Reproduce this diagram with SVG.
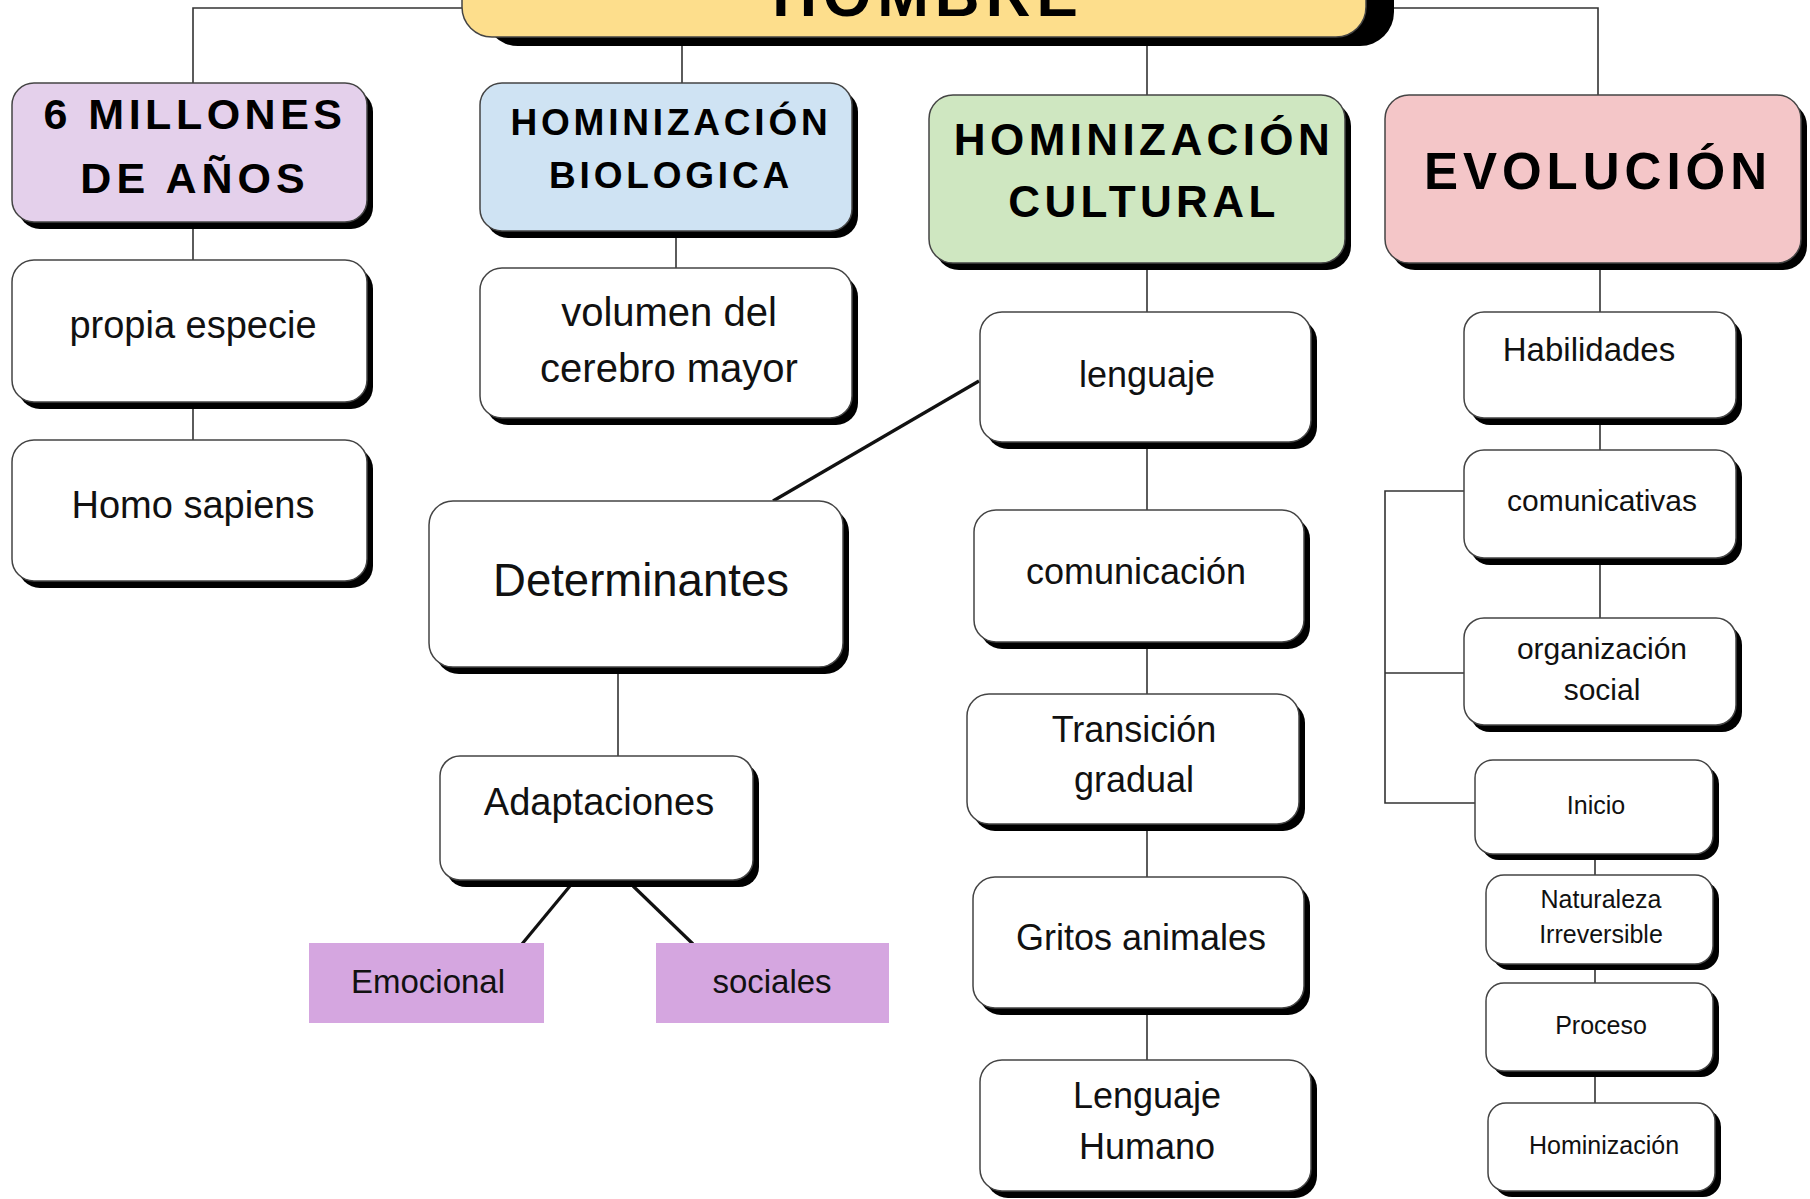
<svg xmlns="http://www.w3.org/2000/svg" width="1810" height="1199" viewBox="0 0 1810 1199">
<style>
.sh{fill:#000}
.bx{stroke:#444;stroke-width:1.5}
.w{fill:#fff}
.t{font-family:"Liberation Sans",Arial,sans-serif;fill:#111;text-anchor:middle}
.h{font-family:"Liberation Sans",Arial,sans-serif;font-weight:bold;fill:#000;text-anchor:middle}
.c{fill:none;stroke:#333;stroke-width:1.6}
.ct{fill:none;stroke:#111;stroke-width:3.2}
</style>
<rect width="1810" height="1199" fill="#fff"/>
<g id="connectors">
<polyline class="c" points="462,8 193,8 193,83"/>
<polyline class="c" points="1393,8 1598,8 1598,95"/>
<line class="c" x1="682" y1="46" x2="682" y2="83"/>
<line class="c" x1="1147" y1="46" x2="1147" y2="95"/>
<line class="c" x1="193" y1="222" x2="193" y2="260"/>
<line class="c" x1="193" y1="402" x2="193" y2="440"/>
<line class="c" x1="676" y1="231" x2="676" y2="268"/>
<line class="c" x1="1147" y1="263" x2="1147" y2="312"/>
<line class="c" x1="1147" y1="442" x2="1147" y2="510"/>
<line class="c" x1="1147" y1="642" x2="1147" y2="694"/>
<line class="c" x1="1147" y1="824" x2="1147" y2="877"/>
<line class="c" x1="1147" y1="1008" x2="1147" y2="1060"/>
<line class="c" x1="1600" y1="263" x2="1600" y2="312"/>
<line class="c" x1="1600" y1="418" x2="1600" y2="450"/>
<line class="c" x1="1600" y1="558" x2="1600" y2="618"/>
<polyline class="c" points="1464,491 1385,491 1385,803 1475,803"/>
<line class="c" x1="1385" y1="673" x2="1464" y2="673"/>
<line class="c" x1="1595" y1="854" x2="1595" y2="875"/>
<line class="c" x1="1595" y1="964" x2="1595" y2="983"/>
<line class="c" x1="1595" y1="1071" x2="1595" y2="1103"/>
<line class="ct" x1="979" y1="381" x2="773" y2="501"/>
<line class="c" x1="618" y1="667" x2="618" y2="756"/>
<line class="ct" x1="570" y1="886" x2="522" y2="944"/>
<line class="ct" x1="633" y1="886" x2="693" y2="944"/>
</g>
<g id="n-hombre">
<rect class="sh" x="484" y="-60" width="910" height="106" rx="34"/>
<rect class="bx" x="462" y="-60" width="904" height="97" rx="30" fill="#fdde8c"/>
<text class="h" x="928" y="16" font-size="62" letter-spacing="6">HOMBRE</text>
</g>
<g id="n-millones">
<rect class="sh" x="18" y="90" width="355" height="139" rx="22"/>
<rect class="bx" x="12" y="83" width="355" height="139" rx="22" fill="#e4d0eb"/>
<text class="h" x="195" y="129" font-size="43" letter-spacing="4.5">6 MILLONES</text>
<text class="h" x="195" y="193" font-size="43" letter-spacing="5">DE AÑOS</text>
</g>
<g id="n-biologica">
<rect class="sh" x="486" y="90" width="372" height="148" rx="22"/>
<rect class="bx" x="480" y="83" width="372" height="148" rx="22" fill="#cfe3f3"/>
<text class="h" x="671" y="135" font-size="37" letter-spacing="3.8">HOMINIZACIÓN</text>
<text class="h" x="671" y="188" font-size="37" letter-spacing="3.8">BIOLOGICA</text>
</g>
<g id="n-cultural">
<rect class="sh" x="935" y="102" width="416" height="168" rx="24"/>
<rect class="bx" x="929" y="95" width="416" height="168" rx="24" fill="#cfe7c1"/>
<text class="h" x="1144" y="155" font-size="44" letter-spacing="4.4">HOMINIZACIÓN</text>
<text class="h" x="1144" y="217" font-size="44" letter-spacing="4.4">CULTURAL</text>
</g>
<g id="n-evolucion">
<rect class="sh" x="1391" y="102" width="416" height="168" rx="24"/>
<rect class="bx" x="1385" y="95" width="416" height="168" rx="24" fill="#f4c6c8"/>
<text class="h" x="1598" y="189" font-size="51" letter-spacing="5">EVOLUCIÓN</text>
</g>
<g id="n-propia">
<rect class="sh" x="18" y="267" width="355" height="142" rx="22"/>
<rect class="bx w" x="12" y="260" width="355" height="142" rx="22"/>
<text class="t" x="193" y="338" font-size="38">propia especie</text>
</g>
<g id="n-homo">
<rect class="sh" x="18" y="447" width="355" height="141" rx="22"/>
<rect class="bx w" x="12" y="440" width="355" height="141" rx="22"/>
<text class="t" x="193" y="518" font-size="38">Homo sapiens</text>
</g>
<g id="n-volumen">
<rect class="sh" x="486" y="275" width="372" height="150" rx="22"/>
<rect class="bx w" x="480" y="268" width="372" height="150" rx="22"/>
<text class="t" x="669" y="326" font-size="40">volumen del</text>
<text class="t" x="669" y="382" font-size="40">cerebro mayor</text>
</g>
<g id="n-determinantes">
<rect class="sh" x="435" y="508" width="414" height="166" rx="24"/>
<rect class="bx w" x="429" y="501" width="414" height="166" rx="24"/>
<text class="t" x="641" y="596" font-size="45.5">Determinantes</text>
</g>
<g id="n-adaptaciones">
<rect class="sh" x="446" y="763" width="313" height="124" rx="20"/>
<rect class="bx w" x="440" y="756" width="313" height="124" rx="20"/>
<text class="t" x="599" y="815" font-size="38">Adaptaciones</text>
</g>
<g id="n-emocional">
<rect x="309" y="943" width="235" height="80" fill="#d5a6e0"/>
<text class="t" x="428" y="993" font-size="33">Emocional</text>
</g>
<g id="n-sociales">
<rect x="656" y="943" width="233" height="80" fill="#d5a6e0"/>
<text class="t" x="772" y="993" font-size="33">sociales</text>
</g>
<g id="n-lenguaje">
<rect class="sh" x="986" y="319" width="331" height="130" rx="22"/>
<rect class="bx w" x="980" y="312" width="331" height="130" rx="22"/>
<text class="t" x="1147" y="387" font-size="36">lenguaje</text>
</g>
<g id="n-comunicacion">
<rect class="sh" x="980" y="517" width="330" height="132" rx="22"/>
<rect class="bx w" x="974" y="510" width="330" height="132" rx="22"/>
<text class="t" x="1136" y="584" font-size="36">comunicación</text>
</g>
<g id="n-transicion">
<rect class="sh" x="973" y="701" width="332" height="130" rx="22"/>
<rect class="bx w" x="967" y="694" width="332" height="130" rx="22"/>
<text class="t" x="1134" y="742" font-size="36">Transición</text>
<text class="t" x="1134" y="792" font-size="36">gradual</text>
</g>
<g id="n-gritos">
<rect class="sh" x="979" y="884" width="331" height="131" rx="22"/>
<rect class="bx w" x="973" y="877" width="331" height="131" rx="22"/>
<text class="t" x="1141" y="950" font-size="36">Gritos animales</text>
</g>
<g id="n-humano">
<rect class="sh" x="986" y="1067" width="331" height="131" rx="22"/>
<rect class="bx w" x="980" y="1060" width="331" height="131" rx="22"/>
<text class="t" x="1147" y="1108" font-size="36">Lenguaje</text>
<text class="t" x="1147" y="1159" font-size="36">Humano</text>
</g>
<g id="n-habilidades">
<rect class="sh" x="1470" y="319" width="272" height="106" rx="20"/>
<rect class="bx w" x="1464" y="312" width="272" height="106" rx="20"/>
<text class="t" x="1589" y="361" font-size="33">Habilidades</text>
</g>
<g id="n-comunicativas">
<rect class="sh" x="1470" y="457" width="272" height="108" rx="20"/>
<rect class="bx w" x="1464" y="450" width="272" height="108" rx="20"/>
<text class="t" x="1602" y="511" font-size="30">comunicativas</text>
</g>
<g id="n-organizacion">
<rect class="sh" x="1470" y="625" width="272" height="107" rx="20"/>
<rect class="bx w" x="1464" y="618" width="272" height="107" rx="20"/>
<text class="t" x="1602" y="659" font-size="30">organización</text>
<text class="t" x="1602" y="700" font-size="30">social</text>
</g>
<g id="n-inicio">
<rect class="sh" x="1481" y="766" width="238" height="94" rx="18"/>
<rect class="bx w" x="1475" y="760" width="238" height="94" rx="18"/>
<text class="t" x="1596" y="814" font-size="25">Inicio</text>
</g>
<g id="n-naturaleza">
<rect class="sh" x="1492" y="881" width="227" height="89" rx="18"/>
<rect class="bx w" x="1486" y="875" width="227" height="89" rx="18"/>
<text class="t" x="1601" y="908" font-size="25">Naturaleza</text>
<text class="t" x="1601" y="943" font-size="25">Irreversible</text>
</g>
<g id="n-proceso">
<rect class="sh" x="1492" y="989" width="227" height="88" rx="18"/>
<rect class="bx w" x="1486" y="983" width="227" height="88" rx="18"/>
<text class="t" x="1601" y="1034" font-size="25">Proceso</text>
</g>
<g id="n-hominizacion">
<rect class="sh" x="1494" y="1109" width="227" height="88" rx="18"/>
<rect class="bx w" x="1488" y="1103" width="227" height="88" rx="18"/>
<text class="t" x="1604" y="1154" font-size="25">Hominización</text>
</g>
</svg>
